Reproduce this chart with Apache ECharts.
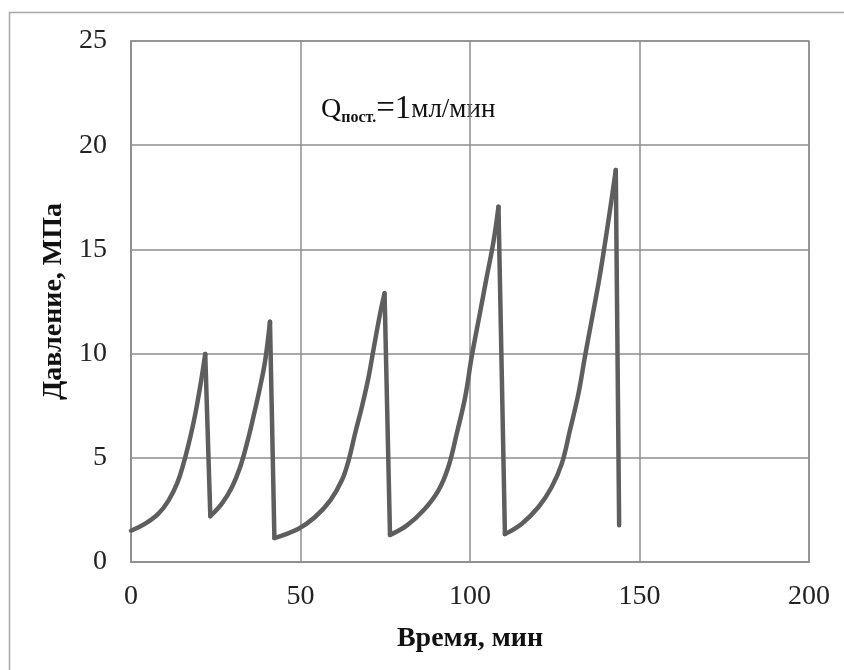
<!DOCTYPE html>
<html>
<head>
<meta charset="utf-8">
<script src="https://cdn.jsdelivr.net/npm/echarts@6/dist/echarts.min.js"></script>
<style>
  html, body { margin: 0; padding: 0; background: #fff; }
  #chart { width: 844px; height: 670px; }
</style>
</head>
<body>
<div id="chart"></div>
<script>
// Время, мин
var timeMin = [
  0, 4.2, 8.1, 11.1, 13.6, 15.5, 17.5, 19.0, 20.4, 21.9,
  23.4, 26.8, 29.8, 32.2, 34.2, 36.1, 38.1, 39.6, 41.0,
  42.3, 49.4, 54.3, 58.8, 62.2, 64.2, 66.1, 68.1, 70.1, 71.5, 73.5, 74.8,
  76.4, 81.4, 86.3, 90.7, 93.6, 96.1, 98.6, 100.5, 103.0, 104.9, 106.9, 108.4,
  110.3, 115.3, 120.2, 124.1, 127.1, 129.5, 132.0, 133.9, 135.9, 137.9, 139.3, 141.3, 143.0,
  144.0
];
// Давление, МПа
var pressure = [
  1.5, 1.84, 2.32, 2.96, 3.77, 4.73, 6.0, 7.13, 8.41, 9.98,
  2.2, 2.8, 3.6, 4.56, 5.69, 6.96, 8.41, 9.69, 11.53,
  1.15, 1.6, 2.16, 2.96, 3.92, 4.88, 6.17, 7.44, 8.89, 10.17, 11.93, 12.89,
  1.3, 1.76, 2.48, 3.44, 4.56, 6.17, 7.93, 9.85, 12.0, 13.65, 15.35, 17.05,
  1.34, 1.84, 2.64, 3.6, 4.73, 6.33, 8.09, 9.85, 11.61, 13.37, 14.75, 16.89, 18.81,
  1.76
];
var xTicks = [0, 50, 100, 150, 200];
var yTicks = [0, 5, 10, 15, 20, 25];

// рост давления (сглаженный) и сбросы (прямые) — отдельными кусками
var rise = [], drops = [];
for (var i = 0; i < timeMin.length; i++) {
  var p = [timeMin[i], pressure[i]];
  if (i > 0 && pressure[i] < pressure[i - 1]) {
    rise.push(null);
    drops.push([timeMin[i - 1], pressure[i - 1]], p, null);
  }
  rise.push(p);
}

var serif = '"Liberation Serif", "Times New Roman", serif';
var gridColor = '#8e8e8e';
var lineColor = '#5e5e5e';

var chart = echarts.init(document.getElementById('chart'));
chart.setOption({
  backgroundColor: '#fff',
  animation: false,
  grid: { left: 131, right: 35, top: 41, bottom: 108 },
  xAxis: {
    type: 'value',
    min: xTicks[0],
    max: xTicks[xTicks.length - 1],
    interval: 50,
    name: 'Время, мин',
    nameLocation: 'middle',
    nameGap: 63,
    nameTextStyle: { fontFamily: serif, fontWeight: 'bold', fontSize: 28, color: '#111' },
    axisLine: { show: true, lineStyle: { color: gridColor, width: 1.5 } },
    axisTick: { show: false },
    axisLabel: { margin: 21, fontFamily: serif, fontSize: 28, color: '#222' },
    splitLine: { show: true, lineStyle: { color: gridColor, width: 1.5 } }
  },
  yAxis: {
    type: 'value',
    min: yTicks[0],
    max: yTicks[yTicks.length - 1],
    interval: 5,
    name: 'Давление, МПа',
    nameLocation: 'middle',
    nameGap: 63,
    nameTextStyle: { fontFamily: serif, fontWeight: 'bold', fontSize: 28, color: '#111' },
    axisLine: { show: true, lineStyle: { color: gridColor, width: 1.5 } },
    axisTick: { show: false },
    axisLabel: { margin: 24, fontFamily: serif, fontSize: 28, color: '#222' },
    splitLine: { show: true, lineStyle: { color: gridColor, width: 1.5 } }
  },
  graphic: [
    {
      // рамка рисунка (левая и верхняя сторона)
      type: 'polyline',
      shape: { points: [[9.5, 670], [9.5, 12.5], [844, 12.5]] },
      style: { stroke: '#a8a8a8', lineWidth: 1.5, fill: null },
      silent: true
    },
    {
      type: 'rect',
      shape: { x: 131, y: 41, width: 678, height: 521 },
      style: { stroke: gridColor, lineWidth: 1.5, fill: null },
      silent: true
    },
    {
      type: 'text',
      left: 321,
      top: 93,
      style: {
        text: '{q|Q}{s|пост.}{n|=1}{u|мл/мин}',
        rich: {
          q: { fontFamily: serif, fontSize: 28, fill: '#111' },
          s: { fontFamily: serif, fontSize: 16, fontWeight: 'bold', fill: '#111', verticalAlign: 'bottom', padding: [9, 0, 0, 0] },
          n: { fontFamily: serif, fontSize: 33, fill: '#111' },
          u: { fontFamily: serif, fontSize: 27, fill: '#111' }
        }
      }
    }
  ],
  series: [
    {
      type: 'line',
      data: rise,
      showSymbol: false,
      smooth: 0.4,
      connectNulls: false,
      lineStyle: { color: lineColor, width: 4.5, join: 'round', cap: 'round' },
      itemStyle: { color: lineColor }
    },
    {
      type: 'line',
      data: drops,
      showSymbol: false,
      smooth: false,
      connectNulls: false,
      lineStyle: { color: lineColor, width: 4.5, join: 'round', cap: 'round' },
      itemStyle: { color: lineColor }
    }
  ]
});
</script>
</body>
</html>
